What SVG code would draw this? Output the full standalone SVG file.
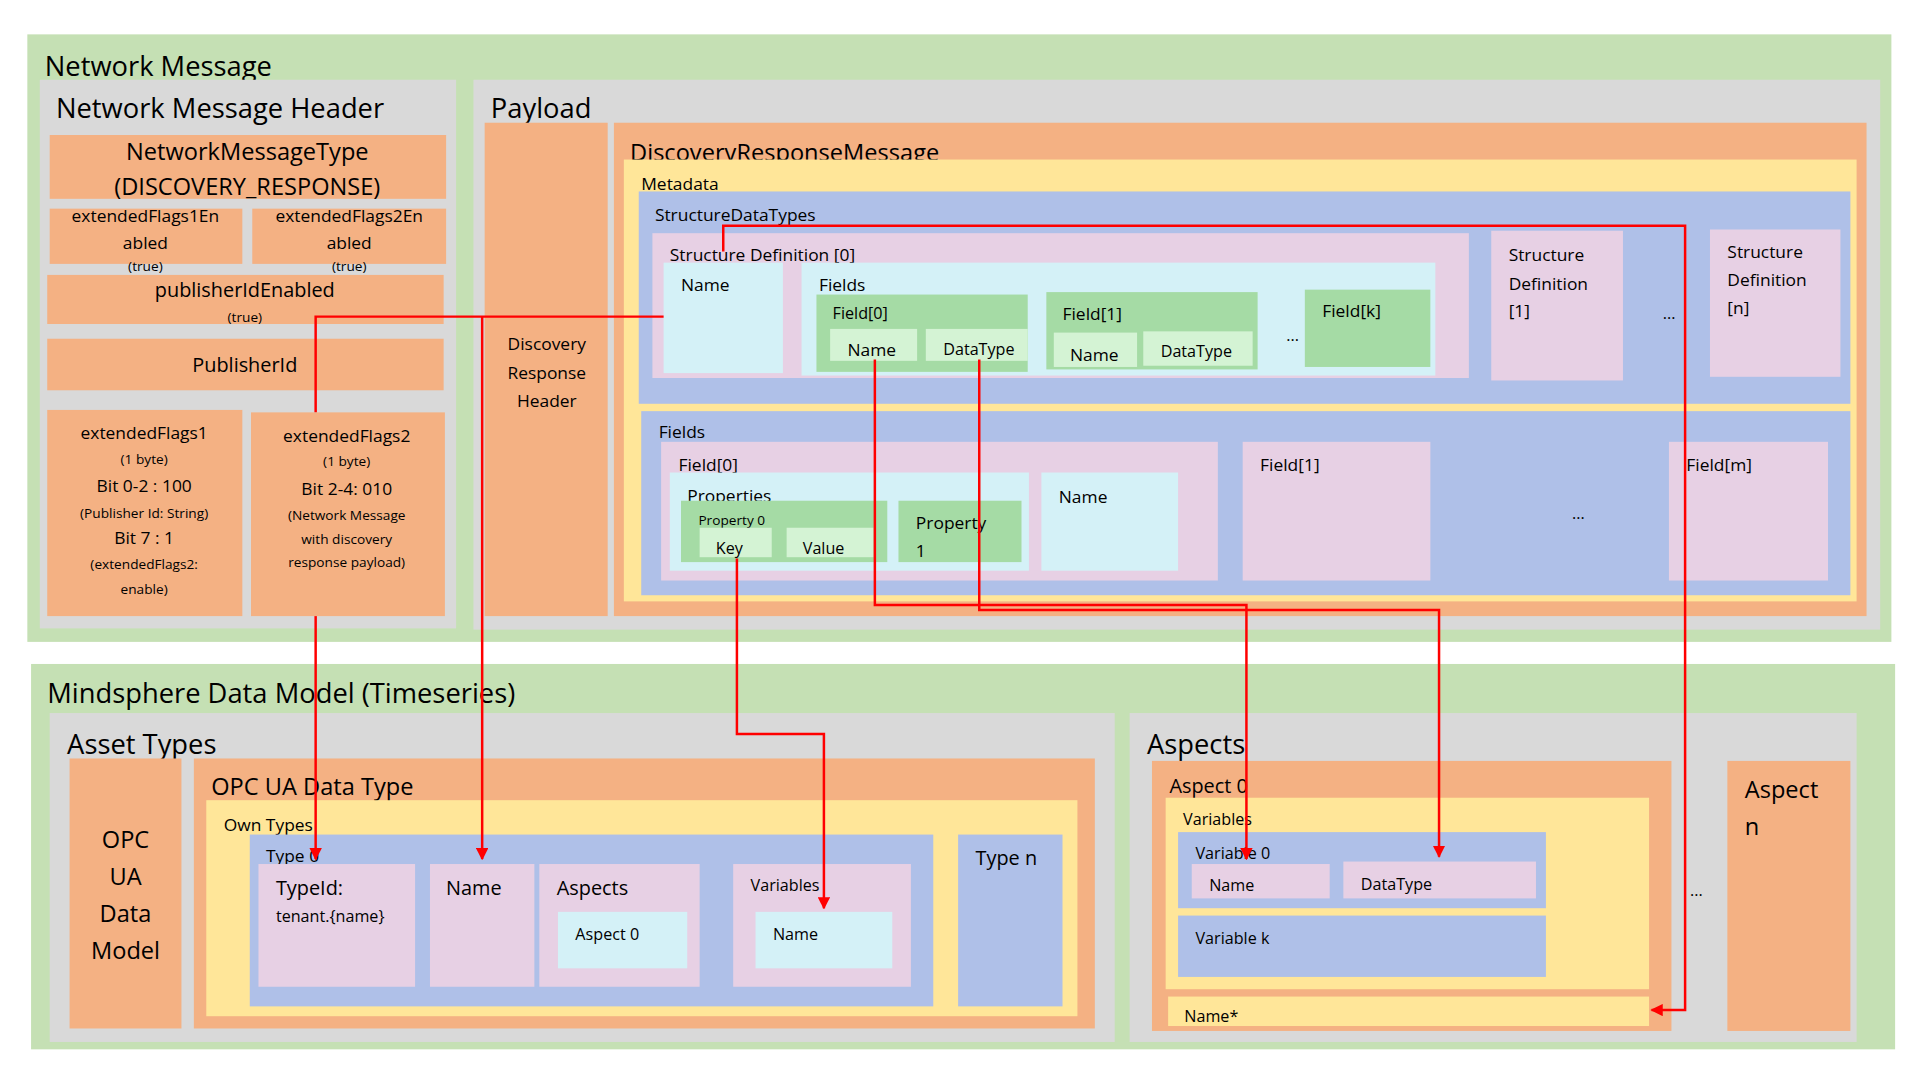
<svg xmlns="http://www.w3.org/2000/svg" width="1920" height="1080" viewBox="0 0 1920 1080">
<defs>
<style>
text{font-family:"Liberation Sans Narrow","Open Sans","Liberation Sans",sans-serif;fill:#000}
.g{fill:#C5E0B4}.gr{fill:#D9D9D9}.o{fill:#F4B183}.y{fill:#FFE699}.b{fill:#AFC0E8}.p{fill:#E7D0E4}.c{fill:#D4F1F7}.f{fill:#A5DBA5}.l{fill:#D4F3D4}
.t22{font-size:22px}.t19{font-size:19px}.t17{font-size:16px}.t15{font-size:14px}.t13{font-size:13px}.t11{font-size:11px}
.m{text-anchor:middle}
.cn{fill:none;stroke:#FF0000;stroke-width:2}
</style>
<marker id="ah" viewBox="0 0 10 10" refX="9" refY="5" markerWidth="5" markerHeight="5" orient="auto"><path d="M0,0L10,5L0,10z" fill="#FF0000"/></marker>
</defs>
<rect width="1920" height="1080" fill="#fff"/>
<g transform="scale(1.2427,1.2273)">
<g id="network-message"><rect class="g" x="22" y="28" width="1500" height="495"/><text class="t22" x="36" y="62">Network Message</text></g>
<g id="header"><rect class="gr" x="32" y="65" width="335" height="447"/><text class="t22" x="45" y="96">Network Message Header</text></g>
<g id="nmtype"><rect class="o" x="40" y="110" width="319" height="52"/><text class="t19 m" x="199" y="130">NetworkMessageType</text><text class="t19 m" x="199" y="159">(DISCOVERY_RESPONSE)</text></g>
<g id="ef1en"><rect class="o" x="40" y="170" width="155" height="45"/><text class="t15 m" x="117" y="181">extendedFlags1En</text><text class="t15 m" x="117" y="203">abled</text><text class="t11 m" x="117" y="221">(true)</text></g>
<g id="ef2en"><rect class="o" x="203" y="170" width="156" height="45"/><text class="t15 m" x="281" y="181">extendedFlags2En</text><text class="t15 m" x="281" y="203">abled</text><text class="t11 m" x="281" y="221">(true)</text></g>
<g id="pubidEn"><rect class="o" x="38" y="224" width="319" height="40"/><text class="t17 m" x="197" y="242">publisherIdEnabled</text><text class="t11 m" x="197" y="262">(true)</text></g>
<g id="pubid"><rect class="o" x="38" y="276" width="319" height="42"/><text class="t17 m" x="197" y="303">PublisherId</text></g>
<g id="ef1"><rect class="o" x="38" y="334" width="157" height="168"/><text class="t15 m" x="116" y="358">extendedFlags1</text><text class="t11 m" x="116" y="378">(1 byte)</text><text class="t15 m" x="116" y="401">Bit 0-2 : 100</text><text class="t11 m" x="116" y="422">(Publisher Id: String)</text><text class="t15 m" x="116" y="443">Bit 7 : 1</text><text class="t11 m" x="116" y="464">(extendedFlags2:</text><text class="t11 m" x="116" y="484">enable)</text></g>
<g id="ef2"><rect class="o" x="202" y="336" width="156" height="166"/><text class="t15 m" x="279" y="360">extendedFlags2</text><text class="t11 m" x="279" y="380">(1 byte)</text><text class="t15 m" x="279" y="403">Bit 2-4: 010</text><text class="t11 m" x="279" y="424">(Network Message</text><text class="t11 m" x="279" y="443">with discovery</text><text class="t11 m" x="279" y="462">response payload)</text></g>
<g id="payload"><rect class="gr" x="381" y="65" width="1132" height="448"/><text class="t22" x="395" y="96">Payload</text></g>
<g id="drh"><rect class="o" x="390" y="100" width="99" height="402"/><text class="t15 m" x="440" y="285">Discovery</text><text class="t15 m" x="440" y="309">Response</text><text class="t15 m" x="440" y="332">Header</text></g>
<g id="drm"><rect class="o" x="494" y="100" width="1008" height="402"/><text class="t19" x="507" y="131">DiscoveryResponseMessage</text></g>
<g id="metadata"><rect class="y" x="502" y="130" width="992" height="360"/><text class="t15" x="516" y="155">Metadata</text></g>
<g id="sdt"><rect class="b" x="514" y="156" width="975" height="173"/><text class="t15" x="527" y="180">StructureDataTypes</text></g>
<g id="sd0"><rect class="p" x="525" y="190" width="657" height="118"/><text class="t15" x="539" y="213">Structure Definition [0]</text></g>
<g id="sd0name"><rect class="c" x="534" y="214" width="96" height="90"/><text class="t15" x="548" y="237">Name</text></g>
<g id="sd0fields"><rect class="c" x="645" y="214" width="510" height="92"/><text class="t15" x="659" y="237">Fields</text></g>
<g id="f0"><rect class="f" x="657" y="240" width="170" height="63"/><text class="t13" x="670" y="260">Field[0]</text><rect class="l" x="668" y="268" width="70" height="26"/><text class="t15" x="682" y="290">Name</text><rect class="l" x="745" y="268" width="82" height="26"/><text class="t13" x="759" y="289">DataType</text></g>
<g id="f1"><rect class="f" x="842" y="238" width="170" height="63"/><text class="t15" x="855" y="261">Field[1]</text><rect class="l" x="848" y="271" width="67" height="28"/><text class="t15" x="861" y="294">Name</text><rect class="l" x="920" y="270" width="88" height="28"/><text class="t13" x="934" y="291">DataType</text></g>
<text class="t13" x="1035" y="278">...</text>
<g id="fk"><rect class="f" x="1050" y="236" width="101" height="63"/><text class="t15" x="1064" y="258">Field[k]</text></g>
<g id="sd1"><rect class="p" x="1200" y="188" width="106" height="122"/><text class="t15" x="1214" y="213">Structure</text><text class="t15" x="1214" y="236">Definition</text><text class="t15" x="1214" y="258">[1]</text></g>
<text class="t13" x="1338" y="260">...</text>
<g id="sdn"><rect class="p" x="1376" y="187" width="105" height="120"/><text class="t15" x="1390" y="210">Structure</text><text class="t15" x="1390" y="233">Definition</text><text class="t15" x="1390" y="256">[n]</text></g>
<g id="fields"><rect class="b" x="516" y="335" width="973" height="150"/><text class="t15" x="530" y="357">Fields</text></g>
<g id="ff0"><rect class="p" x="532" y="360" width="448" height="113"/><text class="t15" x="546" y="384">Field[0]</text></g>
<g id="props"><rect class="c" x="539" y="385" width="289" height="80"/><text class="t15" x="553" y="409">Properties</text></g>
<g id="prop0"><rect class="f" x="548" y="408" width="166" height="50"/><text class="t11" x="562" y="428">Property 0</text><rect class="l" x="563" y="430" width="58" height="24"/><text class="t13" x="576" y="451">Key</text><rect class="l" x="633" y="430" width="70" height="24"/><text class="t13" x="646" y="451">Value</text></g>
<g id="prop1"><rect class="f" x="723" y="408" width="99" height="50"/><text class="t15" x="737" y="431">Property</text><text class="t15" x="737" y="454">1</text></g>
<g id="ff0name"><rect class="c" x="838" y="385" width="110" height="80"/><text class="t15" x="852" y="410">Name</text></g>
<g id="ff1"><rect class="p" x="1000" y="360" width="151" height="113"/><text class="t15" x="1014" y="384">Field[1]</text></g>
<text class="t13" x="1265" y="423">...</text>
<g id="ffm"><rect class="p" x="1343" y="360" width="128" height="113"/><text class="t15" x="1357" y="384">Field[m]</text></g>

<g id="mindsphere"><rect class="g" x="25" y="541" width="1500" height="314"/><text class="t22" x="38" y="573">Mindsphere Data Model (Timeseries)</text></g>
<g id="assettypes"><rect class="gr" x="40" y="581" width="857" height="268"/><text class="t22" x="54" y="614">Asset Types</text></g>
<g id="opcdm"><rect class="o" x="56" y="618" width="90" height="220"/><text class="t19 m" x="101" y="691">OPC</text><text class="t19 m" x="101" y="721">UA</text><text class="t19 m" x="101" y="751">Data</text><text class="t19 m" x="101" y="781">Model</text></g>
<g id="opcdt"><rect class="o" x="156" y="618" width="725" height="220"/><text class="t19" x="170" y="648">OPC UA Data Type</text></g>
<g id="owntypes"><rect class="y" x="166" y="652" width="701" height="176"/><text class="t15" x="180" y="677">Own Types</text></g>
<g id="type0"><rect class="b" x="201" y="680" width="550" height="140"/><text class="t15" x="214" y="702">Type 0</text></g>
<g id="typeid"><rect class="p" x="208" y="704" width="126" height="100"/><text class="t17" x="222" y="729">TypeId:</text><text class="t13" x="222" y="751">tenant.{name}</text></g>
<g id="tname"><rect class="p" x="346" y="704" width="84" height="100"/><text class="t17" x="359" y="729">Name</text></g>
<g id="taspects"><rect class="p" x="434" y="704" width="129" height="100"/><text class="t17" x="448" y="729">Aspects</text><rect class="c" x="449" y="743" width="104" height="46"/><text class="t13" x="463" y="766">Aspect 0</text></g>
<g id="tvars"><rect class="p" x="590" y="704" width="143" height="100"/><text class="t13" x="604" y="726">Variables</text><rect class="c" x="608" y="743" width="110" height="46"/><text class="t13" x="622" y="766">Name</text></g>
<g id="typen"><rect class="b" x="771" y="680" width="84" height="140"/><text class="t17" x="785" y="705">Type n</text></g>
<g id="aspects"><rect class="gr" x="909" y="581" width="585" height="268"/><text class="t22" x="923" y="614">Aspects</text></g>
<g id="aspect0"><rect class="o" x="927" y="620" width="418" height="220"/><text class="t17" x="941" y="646">Aspect 0</text></g>
<g id="avars"><rect class="y" x="938" y="650" width="389" height="156"/><text class="t13" x="952" y="672">Variables</text></g>
<g id="var0"><rect class="b" x="948" y="678" width="296" height="62"/><text class="t13" x="962" y="700">Variable 0</text><rect class="p" x="959" y="704" width="111" height="28"/><text class="t13" x="973" y="726">Name</text><rect class="p" x="1081" y="702" width="155" height="30"/><text class="t13" x="1095" y="725">DataType</text></g>
<g id="vark"><rect class="b" x="948" y="746" width="296" height="50"/><text class="t13" x="962" y="769">Variable k</text></g>
<g id="namestar"><rect class="y" x="940" y="812" width="387" height="24"/><text class="t13" x="953" y="833">Name*</text></g>
<text class="t13" x="1360" y="730">...</text>
<g id="aspectn"><rect class="o" x="1390" y="620" width="99" height="220"/><text class="t19" x="1404" y="650">Aspect</text><text class="t19" x="1404" y="680">n</text></g>

<g id="connectors">
<path class="cn" d="M534,258H254V336"/>
<path class="cn" d="M254,502V700" marker-end="url(#ah)"/>
<path class="cn" d="M388,258V700" marker-end="url(#ah)"/>
<path class="cn" d="M704,293V493H1003V700" marker-end="url(#ah)"/>
<path class="cn" d="M788,293V497H1158V698" marker-end="url(#ah)"/>
<path class="cn" d="M593,455V598H663V740" marker-end="url(#ah)"/>
<path class="cn" d="M582,205V184H1356V823H1329" marker-end="url(#ah)"/>
</g>
</g>
</svg>
